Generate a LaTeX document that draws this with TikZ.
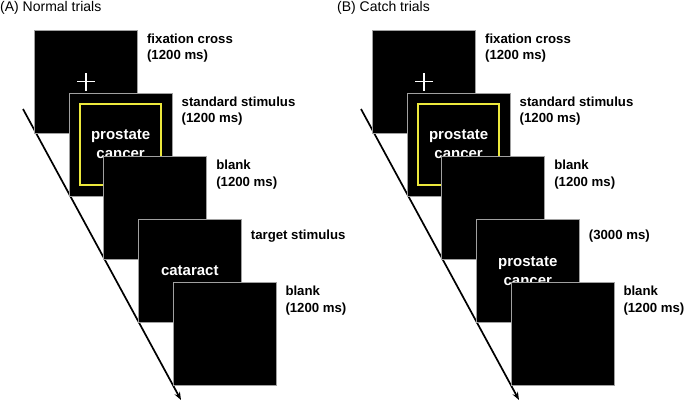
\documentclass[tikz,border=0pt]{standalone}
\usepackage{fontspec}
\setmainfont{Liberation Sans}
\usetikzlibrary{arrows.meta}
\definecolor{scrgray}{RGB}{160,160,160}
\definecolor{frameyellow}{RGB}{236,232,60}

\tikzset{
  screen/.style={draw=scrgray, line width=0.8pt, fill=black, minimum size=103pt,
    inner sep=0pt, text=white, align=center, font=\bfseries\fontsize{15}{19}\selectfont},
  timetext/.style={anchor=north west, inner sep=0pt, align=left,
    font=\bfseries\fontsize{13.2}{16.5}\selectfont},
  timeline/.style={line width=1.7pt, -{Stealth[length=8pt,width=6pt]}},
  paneltitle/.style={anchor=west, inner sep=0pt, font=\fontsize{14}{16}\selectfont},
}

\begin{document}
\begin{tikzpicture}[x=1pt,y=-1pt]
\useasboundingbox (0,0) rectangle (685,402);

% (A) Normal trials
\node[paneltitle] (ta) at (0,8) {(A) Normal trials};
\coordinate (ta0) at (23,109);
\coordinate (ta1) at (181,400);
\draw[timeline] (ta0) -- (ta1);

\node[screen] (a1) at (86,81.5) {};
\draw[white, line width=1.3pt] ([xshift=-9pt]a1.center) -- ([xshift=9pt]a1.center);
\draw[white, line width=1.3pt] ([yshift=-9pt]a1.center) -- ([yshift=9pt]a1.center);
\node[timetext] at ([xshift=9pt,yshift=-4pt]a1.north east) {fixation cross\\(1200 ms)};

\node[screen] (a2) at (120.6,144.6) {prostate\\cancer};
\node[draw=frameyellow, line width=1.5pt, minimum size=81pt] (fa) at (a2.center) {};
\node[timetext] at ([xshift=9pt,yshift=-4pt]a2.north east) {standard stimulus\\(1200 ms)};

\node[screen] (a3) at (155.2,207.7) {};
\node[timetext] at ([xshift=9pt,yshift=-4pt]a3.north east) {blank\\(1200 ms)};

\node[screen] (a4) at (189.8,270.8) {cataract};
\node[timetext] at ([xshift=9pt,yshift=-11pt]a4.north east) {target stimulus};

\node[screen] (a5) at (224.4,333.9) {};
\node[timetext] at ([xshift=9pt,yshift=-4pt]a5.north east) {blank\\(1200 ms)};

% (B) Catch trials
\begin{scope}[xshift=338pt]
\node[paneltitle] (tb) at (-1,8) {(B) Catch trials};
\coordinate (tb0) at (23,109);
\coordinate (tb1) at (181,400);
\draw[timeline] (tb0) -- (tb1);

\node[screen] (b1) at (86,81.5) {};
\draw[white, line width=1.3pt] ([xshift=-9pt]b1.center) -- ([xshift=9pt]b1.center);
\draw[white, line width=1.3pt] ([yshift=-9pt]b1.center) -- ([yshift=9pt]b1.center);
\node[timetext] at ([xshift=9pt,yshift=-4pt]b1.north east) {fixation cross\\(1200 ms)};

\node[screen] (b2) at (120.6,144.6) {prostate\\cancer};
\node[draw=frameyellow, line width=1.5pt, minimum size=81pt] (fb) at (b2.center) {};
\node[timetext] at ([xshift=9pt,yshift=-4pt]b2.north east) {standard stimulus\\(1200 ms)};

\node[screen] (b3) at (155.2,207.7) {};
\node[timetext] at ([xshift=9pt,yshift=-4pt]b3.north east) {blank\\(1200 ms)};

\node[screen] (b4) at (189.8,270.8) {prostate\\cancer};
\node[timetext] at ([xshift=9pt,yshift=-11pt]b4.north east) {(3000 ms)};

\node[screen] (b5) at (224.4,333.9) {};
\node[timetext] at ([xshift=9pt,yshift=-4pt]b5.north east) {blank\\(1200 ms)};
\end{scope}
\end{tikzpicture}
\end{document}
